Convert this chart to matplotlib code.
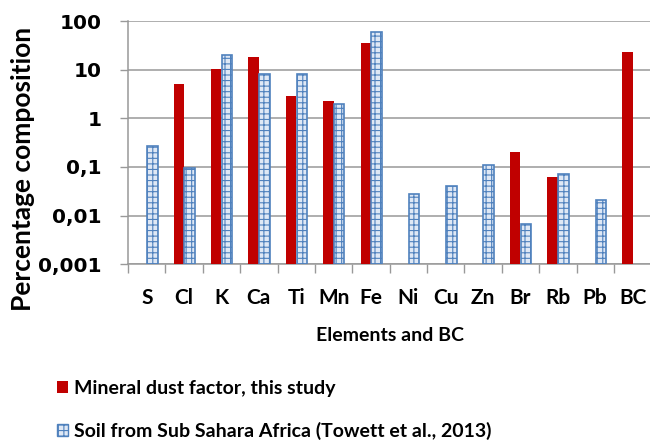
import numpy as np
import matplotlib
matplotlib.use("Agg")
import matplotlib.pyplot as plt
import matplotlib.patches as mpatches

plt.rcParams['font.family'] = ['Lato', 'DejaVu Sans']
plt.rcParams['font.weight'] = 'bold'
plt.rcParams['hatch.color'] = '#3a64a8'
plt.rcParams['hatch.linewidth'] = 0.8

elements = ['S', 'Cl', 'K', 'Ca', 'Ti', 'Mn', 'Fe', 'Ni', 'Cu', 'Zn', 'Br', 'Rb', 'Pb', 'BC']
# mineral dust factor (this study), nan = not shown
dust = [np.nan, 5.1, 10.6, 18, 2.9, 2.24, 35, np.nan, np.nan, np.nan, 0.204, 0.0625, np.nan, 23]
# soil from Sub Sahara Africa (Towett et al., 2013)
soil = [0.27, 0.094, 20, 8.0, 8.0, 1.94, 61, 0.028, 0.041, 0.108, 0.0068, 0.071, 0.021, np.nan]
ytick_vals = [0.001, 0.01, 0.1, 1, 10, 100]
ytick_text = ['0,001', '0,01', '0,1', '1', '10', '100']

red = '#c00000'
blue_edge = '#4f81bd'
blue_fill = '#dfe8f5'

fig = plt.figure(figsize=(6.5, 4.41), dpi=100)
ax = fig.add_axes([0.197, 0.401, 0.805, 0.551])

x = np.arange(len(elements))
w = 0.28
base = 0.001
d = np.array(dust)
s = np.array(soil)
ax.bar(x - w / 2, d - base, w, bottom=base, color=red, edgecolor='none', zorder=3)
ax.bar(x + w / 2 + 0.01, s - base, w, bottom=base, color=blue_fill, edgecolor=blue_edge,
       hatch='+++', linewidth=1.2, zorder=3)

ax.set_yscale('log')
ax.set_ylim(0.001, 100)
ax.set_xlim(-0.5, len(elements) - 0.5)
ax.set_yticks(ytick_vals)
ax.set_yticklabels(ytick_text, fontsize=14.5, fontweight='bold', family='DejaVu Sans')
ax.minorticks_off()
ax.yaxis.grid(True, color='#999999', linewidth=1.1, zorder=0)

# category ticks sit on the boundaries, labels in the middle
ax.set_xticks(np.arange(len(elements) + 1) - 0.5, minor=False)
ax.set_xticklabels([])
ax.set_xticks(x, minor=True)
ax.set_xticklabels(elements, minor=True, fontsize=15, fontweight='bold')
ax.tick_params(axis='x', which='major', length=6.5, color='#999999', width=1)
ax.tick_params(axis='x', which='minor', length=0, pad=17)
ax.tick_params(axis='y', length=5.8, color='#999999', width=1, pad=13)

for side in ['top', 'right']:
    ax.spines[side].set_visible(False)
for side in ['left', 'bottom']:
    ax.spines[side].set_color('#999999')
    ax.spines[side].set_linewidth(1.1)

ax.set_ylabel('Percentage composition', fontsize=19, fontweight='bold')
ax.yaxis.set_label_coords(-0.178, 0.39)
ax.set_xlabel('Elements and BC', fontsize=14, fontweight='bold', labelpad=14)

h1 = mpatches.Patch(facecolor=red, edgecolor='none', label='Mineral dust factor, this study')
h2 = mpatches.Patch(facecolor=blue_fill, edgecolor=blue_edge, hatch='+++',
                    label='Soil from Sub Sahara Africa (Towett et al., 2013)')
fig.legend(handles=[h1, h2], loc='upper left', bbox_to_anchor=(0.088, 0.139),
           frameon=False, handlelength=0.57, handleheight=0.57, borderpad=0,
           borderaxespad=0, handletextpad=0.28, labelspacing=1.3,
           prop={'weight': 'bold', 'size': 14})

fig.savefig('out.png', dpi=100)
